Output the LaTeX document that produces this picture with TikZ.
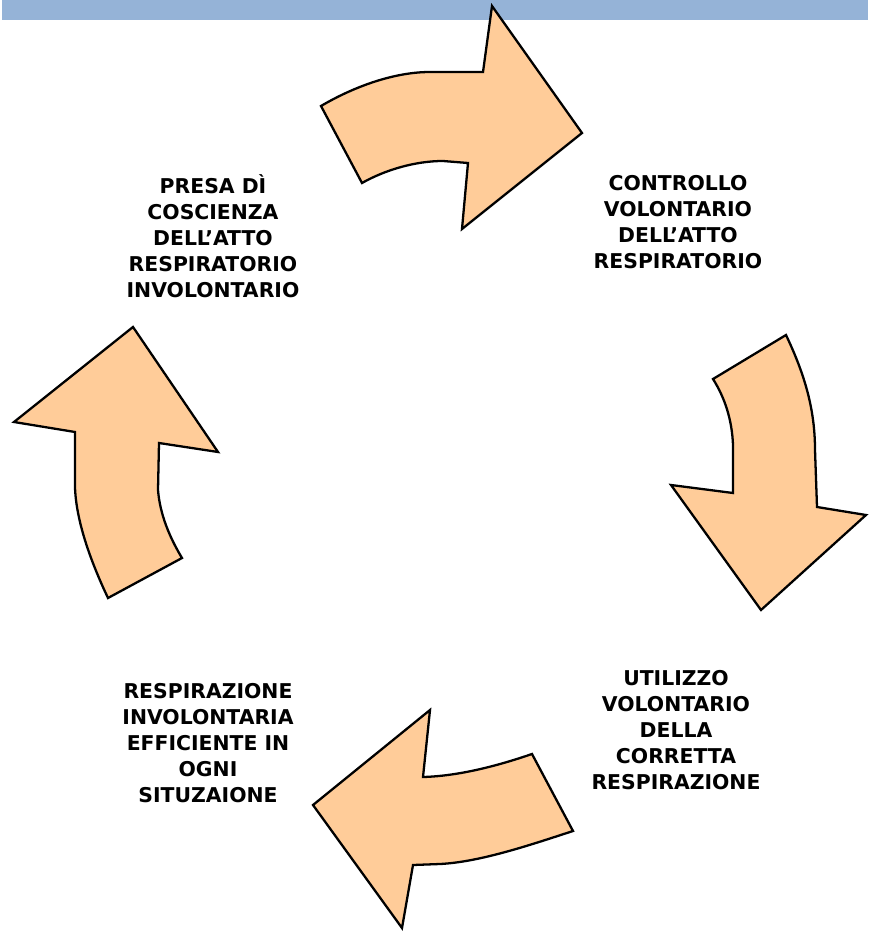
\documentclass[tikz,border=0pt]{standalone}
\usepackage{fontspec}
\setmainfont{DejaVu Sans}
\definecolor{banda}{RGB}{149,179,215}
\definecolor{flecha}{RGB}{255,204,153}
\tikzset{
  flechaciclo/.style={fill=flecha, draw=black, line width=1.3pt, line join=miter},
  etiqueta/.style={font=\fontsize{11.6pt}{14.8pt}\selectfont\bfseries, align=center, text=black}
}
\begin{document}
\begin{tikzpicture}[x=0.02cm, y=-0.02cm]
    \useasboundingbox (0, 0) rectangle (868, 932);

    % Banda superior
    \fill[banda] (2, 0) rectangle (868, 20);

    % Flecha superior
    \draw[flechaciclo] (321, 106) .. controls (355, 86) and (395, 72) .. (430, 72) -- (483, 72) -- (492, 6)
        -- (582, 133) -- (462, 229) -- (468, 163) -- (443, 161)
        .. controls (415, 161) and (385, 170) .. (362, 183) -- cycle;

    % Flecha derecha
    \draw[flechaciclo] (713, 379) -- (786, 335) .. controls (805, 375) and (815, 410) .. (815, 450)
        -- (817, 507) -- (866, 515) -- (761, 610) -- (671, 485) -- (733, 493) -- (733, 445)
        .. controls (732, 420) and (725, 398) .. (713, 379) -- cycle;

    % Flecha inferior
    \draw[flechaciclo] (532, 754) -- (573, 831) .. controls (530, 845) and (480, 862) .. (440, 864)
        -- (413, 865) -- (402, 928) -- (313, 805) -- (430, 710) -- (423, 777)
        .. controls (460, 776) and (500, 765) .. (532, 754) -- cycle;

    % Flecha izquierda
    \draw[flechaciclo] (133, 327) -- (218, 452) -- (159, 443) -- (158, 490)
        .. controls (160, 515) and (170, 538) .. (182, 558) -- (108, 598)
        .. controls (90, 560) and (76, 520) .. (75, 487) -- (75, 432) -- (14, 422) -- cycle;

    % Etiquetas
    \node[etiqueta] (presa) at (213, 236) {PRESA DÌ\\COSCIENZA\\DELL'ATTO\\RESPIRATORIO\\INVOLONTARIO};
    \node[etiqueta] (controllo) at (678, 222) {CONTROLLO\\VOLONTARIO\\DELL'ATTO\\RESPIRATORIO};
    \node[etiqueta] (utilizzo) at (676, 730) {UTILIZZO\\VOLONTARIO\\DELLA\\CORRETTA\\RESPIRAZIONE};
    \node[etiqueta] (involontaria) at (208, 743) {RESPIRAZIONE\\INVOLONTARIA\\EFFICIENTE IN\\OGNI\\SITUZAIONE};

\end{tikzpicture}
\end{document}
